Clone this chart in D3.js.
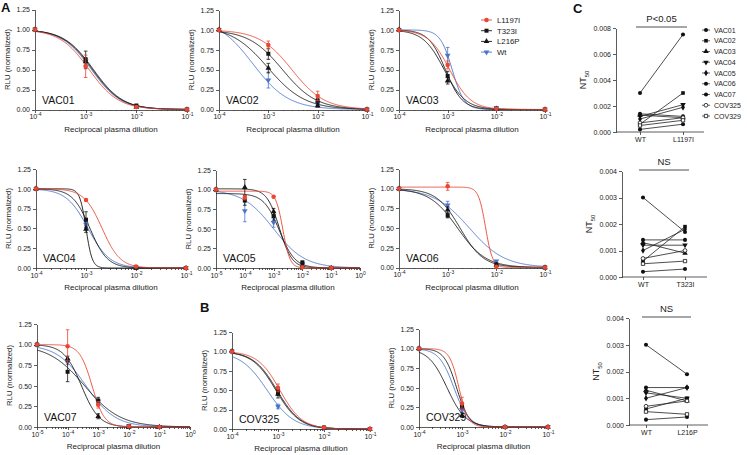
<!DOCTYPE html>
<html lang="en">
<head>
<meta charset="utf-8">
<title>Neutralization curves</title>
<script src="https://cdn.jsdelivr.net/npm/d3@7"></script>
<style>
  body { margin: 0; background: #fff; }
  svg { font-family: "Liberation Sans", Arial, sans-serif; }
  .axis path, .axis line { stroke: #333; stroke-width: 0.8; fill: none; shape-rendering: crispEdges; }
  .axis text { font-size: 7px; fill: #222; font-family: "Liberation Sans", Arial, sans-serif; }
</style>
</head>
<body>
<script>
// ---- data ----
var variants = ["L1197I", "T323I", "L216P", "Wt"];
var variantColors = ["#ec4530", "#151515", "#151515", "#4a74c9"];
var yTicks = [0, 0.25, 0.5, 0.75, 1, 1.25];
var dilutions4 = [1e-4, 1e-3, 1e-2, 1e-1];
var dilutions5 = [1e-5, 1e-4, 1e-3, 1e-2, 1e-1];

// fitted curves: [IC50, Hill slope, top], order L1197I, T323I, L216P, Wt
var vac01Fit  = [[1.17e-3, 1.5, 1], [1.42e-3, 1.5, 1], [1.36e-3, 1.5, 1], [1.3e-3, 1.5, 1]];
var vac01Mean = [[1, 0.54, 0.03, 0], [1, 0.62, 0.05, 0], [1, 0.60, 0.03, 0], [1, 0.60, 0.04, 0]];
var vac01Err  = [[0, 0.14, 0.01, 0], [0, 0.11, 0.01, 0], [0, 0.05, 0, 0], [0, 0.04, 0, 0]];

var vac02Fit  = [[3.0e-3, 1.32, 1], [1.94e-3, 1.27, 1], [9.8e-4, 1.16, 1.05], [4.85e-4, 1.2, 1.15]];
var vac02Mean = [[1, 0.81, 0.17, 0], [1, 0.70, 0.11, 0], [1, 0.52, 0.05, 0], [1, 0.37, 0.08, 0]];
var vac02Err  = [[0, 0.05, 0.06, 0], [0, 0.07, 0.03, 0], [0, 0.06, 0.02, 0], [0, 0.10, 0.02, 0]];

var vac03Fit  = [[1.1e-3, 2.0, 1], [9.0e-4, 2.5, 1], [8.5e-4, 2.0, 1], [1.24e-3, 3.5, 1]];
var vac03Mean = [[1, 0.56, 0.01, 0], [1, 0.42, 0.01, 0], [1, 0.36, 0.01, 0], [1, 0.68, 0.02, 0]];
var vac03Err  = [[0, 0.05, 0, 0], [0, 0.06, 0, 0], [0, 0.04, 0, 0], [0, 0.10, 0, 0]];

var vac04Fit  = [[2.1e-3, 2.4, 1], [1.2e-3, 2.5, 1], [1.0e-3, 7, 1], [1.1e-3, 2.0, 1]];
var vac04Mean = [[1, 0.86, 0.02, 0], [1, 0.61, 0.01, 0], [1, 0.49, 0, 0], [1, 0.55, 0.01, 0]];
var vac04Err  = [[0, 0.01, 0, 0], [0, 0.10, 0, 0], [0, 0.04, 0, 0], [0, 0.05, 0, 0]];

var vac05Fit  = [[2.1e-3, 3.5, 0.98], [1.6e-3, 1.6, 0.95], [1.6e-3, 2.0, 1.01], [1.0e-3, 0.8, 1]];
var vac05Mean = [[1, 0.90, 0.91, 0.01, 0], [1, 0.86, 0.66, 0.07, 0], [1, 1.03, 0.72, 0.03, 0], [1, 0.73, 0.58, 0.05, 0]];
var vac05Err  = [[0, 0.03, 0.01, 0, 0], [0, 0.06, 0.05, 0.02, 0], [0, 0.10, 0.04, 0.01, 0], [0, 0.14, 0.06, 0.02, 0]];

var vac06Fit  = [[6.0e-3, 6, 1.02], [1.6e-3, 1.5, 1], [1.8e-3, 1.8, 1], [2.8e-3, 1.2, 1]];
var vac06Mean = [[1, 1.03, 0.01, 0], [1, 0.66, 0.04, 0], [1, 0.73, 0.03, 0], [1, 0.79, 0.08, 0]];
var vac06Err  = [[0, 0.05, 0, 0], [0, 0.03, 0.01, 0], [0, 0.04, 0, 0], [0, 0.05, 0.01, 0]];

var vac07Fit  = [[6.3e-4, 2.15, 1], [3.6e-4, 0.74, 1], [2.84e-4, 1.51, 1], [4.0e-4, 0.91, 1]];
var vac07Mean = [[1, 0.98, 0.27, 0.01, 0], [1, 0.67, 0.32, 0.01, 0], [1, 0.83, 0.13, 0, 0], [1, 0.79, 0.31, 0.01, 0]];
var vac07Err  = [[0, 0.20, 0.04, 0, 0], [0, 0.12, 0.04, 0, 0], [0, 0.03, 0.03, 0, 0], [0, 0.03, 0.03, 0, 0]];

var cov325Fit  = [[1.1e-3, 1.8, 1], [9.5e-4, 1.7, 1], [9.0e-4, 1.7, 1], [5.8e-4, 1.5, 1]];
var cov325Mean = [[1, 0.53, 0.02, 0], [1, 0.47, 0.02, 0], [1, 0.45, 0.01, 0], [1, 0.29, 0.01, 0]];
var cov325Err  = [[0, 0.05, 0, 0], [0, 0.04, 0, 0], [0, 0.05, 0, 0], [0, 0.03, 0, 0]];

var cov329Fit  = [[8.5e-4, 4, 1], [7.5e-4, 3, 1], [4.5e-4, 2, 1], [6.5e-4, 2.5, 1]];
var cov329Mean = [[1, 0.30, 0, 0], [1, 0.27, 0, 0], [1, 0.15, 0, 0], [1, 0.22, 0, 0]];
var cov329Err  = [[0, 0.08, 0, 0], [0, 0.04, 0, 0], [0, 0.03, 0, 0], [0, 0.03, 0, 0]];

// NT50 (panel C)
var ntSamples = ["VAC01", "VAC02", "VAC03", "VAC04", "VAC05", "VAC06", "VAC07", "COV325", "COV329"];
var ntWT     = [0.0014, 0.0006, 0.0013, 0.0012, 0.0010, 0.0030, 0.0002, 0.0007, 0.0005];
var ntL1197I = [0.0012, 0.0030, 0.0011, 0.0021, 0.0019, 0.0075, 0.0006, 0.0011, 0.0009];
var ntT323I  = [0.0014, 0.0019, 0.0009, 0.0012, 0.0018, 0.0017, 0.0003, 0.0010, 0.0006];
var ntL216P  = [0.0014, 0.0010, 0.0009, 0.0010, 0.0014, 0.0019, 0.0003, 0.0009, 0.0004];
var ntTicksWide = [0, 0.002, 0.004, 0.006, 0.008];
var ntTicksNarrow = [0, 0.001, 0.002, 0.003, 0.004];

// ---- drawing ----
var svg = d3.select("body").append("svg").attr("width", 747).attr("height", 455);

var seriesSymbols = [d3.symbolCircle, d3.symbolSquare, d3.symbolTriangle, d3.symbolTriangle];
var seriesRotate = [0, 0, 0, 180];
var seriesSize = [16, 16, 14, 14];

function logistic(x, f) { return f[2] / (1 + Math.pow(x / f[0], f[1])); }

function supLabels(sel) {
	sel.selectAll(".tick text").each(function(d) {
		var t = d3.select(this);
		t.text("10");
		t.append("tspan").attr("dy", -3).attr("font-size", "5px")
			.text(String(Math.round(Math.log10(d))));
	});
}

function curvePanel(p) {
	var x = d3.scaleLog().domain([Math.pow(10, p.exps[0]), Math.pow(10, p.exps[p.exps.length - 1])]).range([p.left, p.right]);
	var y = d3.scaleLinear().domain([0, 1.25]).range([p.bottom, p.top]);
	var g = svg.append("g");

	var majors = p.exps.map(function(e) { return Math.pow(10, e); });
	var minors = [];
	majors.slice(0, -1).forEach(function(m) { for (var k = 2; k < 10; k++) minors.push(m * k); });

	g.append("g").attr("class", "axis")
		.attr("transform", "translate(0," + p.bottom + ")")
		.call(d3.axisBottom(x).tickValues(minors).tickSize(1.8).tickFormat(""))
		.select(".domain").remove();
	g.append("g").attr("class", "axis")
		.attr("transform", "translate(0," + p.bottom + ")")
		.call(d3.axisBottom(x).tickValues(majors).tickSize(3).tickSizeOuter(0).tickPadding(2))
		.call(supLabels);

	g.append("g").attr("class", "axis")
		.attr("transform", "translate(" + p.left + ",0)")
		.call(d3.axisLeft(y).tickValues(yTicks).tickSize(3).tickSizeOuter(0).tickPadding(2).tickFormat(d3.format(".2f")));

	g.append("text").attr("transform", "translate(" + (p.left - 25) + "," + ((p.top + p.bottom) / 2) + ") rotate(-90)")
		.attr("text-anchor", "middle").attr("font-size", "7.8px").attr("fill", "#222").text("RLU (normalized)");
	g.append("text").attr("x", (p.left + p.right) / 2).attr("y", p.bottom + 22)
		.attr("text-anchor", "middle").attr("font-size", "8px").attr("fill", "#222").text("Reciprocal plasma dilution");
	g.append("text").attr("x", p.left + 7).attr("y", p.bottom - 6)
		.attr("font-size", "10.5px").attr("fill", "#111").text(p.name);

	var lo = x.domain()[0], hi = x.domain()[1];
	var xs = d3.range(0, 241).map(function(i) { return lo * Math.pow(hi / lo, i / 240); });
	var line = d3.line().x(function(d) { return x(d); });
	var order = [3, 2, 1, 0];

	order.forEach(function(s) {
		g.append("path").datum(xs)
			.attr("fill", "none").attr("stroke", variantColors[s]).attr("stroke-width", 0.9)
			.attr("d", line.y(function(d) { return y(logistic(d, p.fit[s])); }));
	});

	order.forEach(function(s) {
		var pts = p.dil.map(function(d, i) { return { x: d, m: p.mean[s][i], e: p.err[s][i] }; });
		var eb = g.append("g").attr("stroke", variantColors[s]).attr("stroke-width", 0.8);
		pts.filter(function(d) { return d.e > 0.015; }).forEach(function(d) {
			var cx = x(d.x);
			eb.append("line").attr("x1", cx).attr("x2", cx).attr("y1", y(d.m - d.e)).attr("y2", y(d.m + d.e));
			eb.append("line").attr("x1", cx - 1.8).attr("x2", cx + 1.8).attr("y1", y(d.m - d.e)).attr("y2", y(d.m - d.e));
			eb.append("line").attr("x1", cx - 1.8).attr("x2", cx + 1.8).attr("y1", y(d.m + d.e)).attr("y2", y(d.m + d.e));
		});
		g.selectAll(null).data(pts).enter().append("path")
			.attr("d", d3.symbol().type(seriesSymbols[s]).size(seriesSize[s]))
			.attr("transform", function(d) { return "translate(" + x(d.x) + "," + y(d.m) + ") rotate(" + seriesRotate[s] + ")"; })
			.attr("fill", variantColors[s]);
	});
}

var panels = [
	{ name: "VAC01", exps: [-4, -3, -2, -1], left: 35, right: 187, top: 9.5, bottom: 109.5, dil: dilutions4, fit: vac01Fit, mean: vac01Mean, err: vac01Err },
	{ name: "VAC02", exps: [-4, -3, -2, -1], left: 219, right: 367, top: 10, bottom: 109.5, dil: dilutions4, fit: vac02Fit, mean: vac02Mean, err: vac02Err },
	{ name: "VAC03", exps: [-4, -3, -2, -1], left: 399, right: 545, top: 10, bottom: 109.5, dil: dilutions4, fit: vac03Fit, mean: vac03Mean, err: vac03Err },
	{ name: "VAC04", exps: [-4, -3, -2, -1], left: 36, right: 186, top: 169, bottom: 268, dil: dilutions4, fit: vac04Fit, mean: vac04Mean, err: vac04Err },
	{ name: "VAC05", exps: [-5, -4, -3, -2, -1, 0], left: 216, right: 360, top: 170, bottom: 268, dil: dilutions5, fit: vac05Fit, mean: vac05Mean, err: vac05Err },
	{ name: "VAC06", exps: [-4, -3, -2, -1], left: 399, right: 545, top: 169, bottom: 267.5, dil: dilutions4, fit: vac06Fit, mean: vac06Mean, err: vac06Err },
	{ name: "VAC07", exps: [-5, -4, -3, -2, -1, 0], left: 37, right: 190, top: 324, bottom: 427, dil: dilutions5, fit: vac07Fit, mean: vac07Mean, err: vac07Err },
	{ name: "COV325", exps: [-4, -3, -2, -1], left: 232, right: 370, top: 332, bottom: 429, dil: dilutions4, fit: cov325Fit, mean: cov325Mean, err: cov325Err },
	{ name: "COV329", exps: [-4, -3, -2, -1], left: 419, right: 548, top: 329, bottom: 427, dil: dilutions4, fit: cov329Fit, mean: cov329Mean, err: cov329Err }
];
panels.forEach(curvePanel);

// legend for panel A
var legA = svg.append("g").attr("transform", "translate(481,20)");
variants.forEach(function(v, i) {
	var row = legA.append("g").attr("transform", "translate(0," + (i * 10.7) + ")");
	row.append("line").attr("x1", 0).attr("x2", 11).attr("stroke", variantColors[i]).attr("stroke-width", 0.9);
	row.append("path").attr("d", d3.symbol().type(seriesSymbols[i]).size(seriesSize[i]))
		.attr("transform", "translate(5.5,0) rotate(" + seriesRotate[i] + ")").attr("fill", variantColors[i]);
	row.append("text").attr("x", 16).attr("y", 2.8).attr("font-size", "7.8px").attr("fill", "#222").text(v);
});

// panel letters
[["A", 1, 12], ["B", 200, 312], ["C", 573, 13]].forEach(function(l) {
	svg.append("text").attr("x", l[1]).attr("y", l[2]).attr("font-size", "13px").attr("font-weight", "bold").attr("fill", "#111").text(l[0]);
});

// panel C
var ntSymbols = [d3.symbolCircle, d3.symbolSquare, d3.symbolTriangle, d3.symbolTriangle, d3.symbolDiamond,
	d3.symbolCircle, d3.symbolCircle, d3.symbolCircle, d3.symbolSquare];
var ntRotate = [0, 0, 0, 180, 0, 0, 0, 0, 0];
var ntOpen = [false, false, false, false, false, false, false, true, true];

function ntMarker(sel, i) {
	sel.append("path").attr("d", d3.symbol().type(ntSymbols[i]).size(ntOpen[i] ? 11 : 13))
		.attr("transform", "rotate(" + ntRotate[i] + ")")
		.attr("fill", ntOpen[i] ? "#fff" : "#111").attr("stroke", "#111").attr("stroke-width", ntOpen[i] ? 0.8 : 0);
}

function ntPanel(p) {
	var x = d3.scalePoint().domain(["WT", p.variant]).range([p.xa, p.xb]);
	var y = d3.scaleLinear().domain([0, p.ticks[p.ticks.length - 1]]).range([p.bottom, p.top]);
	var g = svg.append("g");

	g.append("line").attr("x1", p.left).attr("x2", p.right).attr("y1", p.bottom).attr("y2", p.bottom)
		.attr("stroke", "#333").attr("stroke-width", 0.8);
	g.append("g").attr("class", "axis").attr("transform", "translate(0," + p.bottom + ")")
		.call(d3.axisBottom(x).tickSize(3).tickPadding(2))
		.call(function(s) { s.select(".domain").remove(); s.selectAll("text").attr("font-size", "7.8px"); });
	g.append("g").attr("class", "axis").attr("transform", "translate(" + p.left + ",0)")
		.call(d3.axisLeft(y).tickValues(p.ticks).tickSize(3).tickSizeOuter(0).tickPadding(2).tickFormat(d3.format(".3f")))
		.call(function(s) { s.selectAll("text").attr("font-size", "7.3px"); });

	var lab = g.append("text").attr("transform", "translate(" + (p.left - 30) + "," + ((p.top + p.bottom) / 2) + ") rotate(-90)")
		.attr("text-anchor", "middle").attr("font-size", "9px").attr("fill", "#222");
	lab.append("tspan").text("NT");
	lab.append("tspan").attr("dy", 2.5).attr("font-size", "6px").text("50");

	g.append("line").attr("x1", p.xa - 4).attr("x2", p.xb + 4).attr("y1", p.top - 1).attr("y2", p.top - 1)
		.attr("stroke", "#222").attr("stroke-width", 0.8);
	g.append("text").attr("x", (p.xa + p.xb) / 2).attr("y", p.top - 6).attr("text-anchor", "middle")
		.attr("font-size", "9.5px").attr("fill", "#222").text(p.label);

	ntSamples.forEach(function(s, i) {
		g.append("line").attr("x1", x("WT")).attr("x2", x(p.variant))
			.attr("y1", y(p.wt[i])).attr("y2", y(p.mut[i])).attr("stroke", "#222").attr("stroke-width", 0.8);
	});
	ntSamples.forEach(function(s, i) {
		ntMarker(g.append("g").attr("transform", "translate(" + x("WT") + "," + y(p.wt[i]) + ")"), i);
		ntMarker(g.append("g").attr("transform", "translate(" + x(p.variant) + "," + y(p.mut[i]) + ")"), i);
	});
}

ntPanel({ variant: "L1197I", left: 616, right: 704, xa: 640, xb: 683, top: 28, bottom: 132, ticks: ntTicksWide, wt: ntWT, mut: ntL1197I, label: "P<0.05" });
ntPanel({ variant: "T323I", left: 622, right: 707, xa: 643, xb: 685, top: 171, bottom: 277, ticks: ntTicksNarrow, wt: ntWT, mut: ntT323I, label: "NS" });
ntPanel({ variant: "L216P", left: 629, right: 708, xa: 646, xb: 687, top: 318, bottom: 425, ticks: ntTicksNarrow, wt: ntWT, mut: ntL216P, label: "NS" });

// legend for panel C
var legC = svg.append("g").attr("transform", "translate(706,30)");
ntSamples.forEach(function(s, i) {
	var row = legC.append("g").attr("transform", "translate(0," + (i * 10.75) + ")");
	row.append("line").attr("x1", -4).attr("x2", 4).attr("stroke", "#222").attr("stroke-width", 0.7);
	ntMarker(row, i);
	row.append("text").attr("x", 8).attr("y", 2.5).attr("font-size", "7px").attr("fill", "#222").text(s);
});
</script>
</body>
</html>
